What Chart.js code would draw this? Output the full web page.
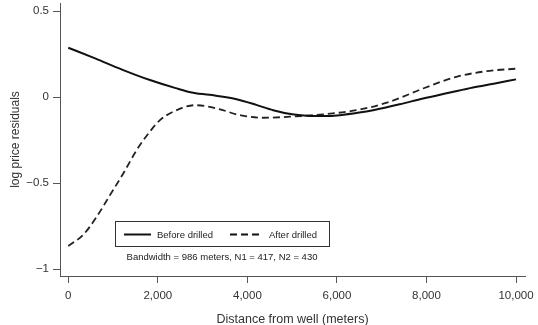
<!DOCTYPE html>
<html>
<head>
<meta charset="utf-8">
<script src="https://cdn.jsdelivr.net/npm/chart.js@4"></script>
<style>
  html, body { margin: 0; padding: 0; background: #fff; }
  #wrap { width: 538px; height: 325px; }
</style>
</head>
<body>
<div id="wrap"><canvas id="c" width="538" height="325"></canvas></div>
<script>
// distance from well (meters)
const beforeX = [0, 600, 1200, 1824, 2400, 2790, 3300, 3758, 4200, 4576, 5000, 5320, 5700, 6065, 6500, 6808, 7400, 7924, 8500, 9040, 9500, 10000];
const beforeY = [0.287, 0.225, 0.16, 0.099, 0.052, 0.025, 0.008, -0.012, -0.045, -0.076, -0.1, -0.108, -0.11, -0.105, -0.09, -0.076, -0.042, -0.008, 0.025, 0.056, 0.078, 0.103];

const afterX = [0, 335, 634, 931, 1228, 1527, 1824, 2047, 2344, 2828, 3313, 3833, 4353, 4949, 5692, 6437, 7181, 7924, 8670, 9413, 10000];
const afterY = [-0.866, -0.8, -0.696, -0.57, -0.444, -0.308, -0.2, -0.134, -0.085, -0.047, -0.066, -0.105, -0.12, -0.114, -0.1, -0.076, -0.027, 0.05, 0.118, 0.153, 0.165];

const xTicks = [0, 2000, 4000, 6000, 8000, 10000];
const yTicks = [-1, -0.5, 0, 0.5];

const seriesNames = ['Before drilled', 'After drilled'];
const noteText = 'Bandwidth = 986 meters, N1 = 417, N2 = 430';

const font = '"Liberation Sans", Arial, Helvetica, sans-serif';

function toPoints(xs, ys) {
  return xs.map((x, i) => ({ x: x, y: ys[i] }));
}

// legend box drawn inside the plot
const legendBox = {
  id: 'legendBox',
  afterDraw(chart) {
    const ctx = chart.ctx;
    ctx.save();
    ctx.strokeStyle = '#333';
    ctx.lineWidth = 1;
    ctx.strokeRect(115.5, 221.5, 214, 25);

    ctx.strokeStyle = '#111';
    ctx.lineWidth = 2;
    ctx.beginPath();
    ctx.moveTo(124, 234.5);
    ctx.lineTo(151, 234.5);
    ctx.stroke();

    ctx.setLineDash([7, 4]);
    ctx.beginPath();
    ctx.moveTo(230, 234.5);
    ctx.lineTo(261, 234.5);
    ctx.stroke();
    ctx.setLineDash([]);

    ctx.fillStyle = '#222';
    ctx.font = '9.5px ' + font;
    ctx.textBaseline = 'middle';
    ctx.textAlign = 'left';
    ctx.fillText(seriesNames[0], 157, 235);
    ctx.fillText(seriesNames[1], 269, 235);
    ctx.textAlign = 'center';
    ctx.fillText(noteText, 222, 257);
    ctx.restore();
  }
};

new Chart(document.getElementById('c').getContext('2d'), {
  type: 'scatter',
  data: {
    datasets: [
      {
        label: seriesNames[0],
        data: toPoints(beforeX, beforeY),
        showLine: true,
        borderColor: '#111',
        borderWidth: 2,
        pointRadius: 0,
        cubicInterpolationMode: 'monotone',
        fill: false
      },
      {
        label: seriesNames[1],
        data: toPoints(afterX, afterY),
        showLine: true,
        borderColor: '#222',
        borderWidth: 1.8,
        borderDash: [7, 4],
        pointRadius: 0,
        cubicInterpolationMode: 'monotone',
        fill: false
      }
    ]
  },
  options: {
    responsive: false,
    animation: false,
    layout: { padding: { top: 3, right: 13, left: 0, bottom: 0 } },
    plugins: {
      legend: { display: false },
      tooltip: { enabled: false }
    },
    scales: {
      x: {
        type: 'linear',
        min: -185,
        max: 10200,
        afterBuildTicks: function (scale) {
          scale.ticks = xTicks.map(v => ({ value: v }));
        },
        afterFit: function (scale) {
          scale.height = 49;
          scale.paddingLeft = 0;
          scale.paddingRight = 0;
        },
        grid: {
          drawOnChartArea: false,
          drawTicks: true,
          tickLength: 7,
          color: '#555'
        },
        border: { display: true, color: '#555', width: 1 },
        ticks: {
          padding: 6,
          color: '#333',
          font: { family: font, size: 11.5 },
          maxRotation: 0,
          callback: function (v) { return v.toLocaleString('en-US'); }
        },
        title: {
          display: true,
          text: 'Distance from well (meters)',
          color: '#333',
          font: { family: font, size: 12.5 },
          padding: { top: 5, bottom: -2 }
        }
      },
      y: {
        min: -1.04,
        max: 0.547,
        afterBuildTicks: function (scale) {
          scale.ticks = yTicks.map(v => ({ value: v }));
        },
        afterFit: function (scale) {
          scale.width = 60;
          scale.paddingTop = 0;
          scale.paddingBottom = 0;
        },
        grid: {
          drawOnChartArea: false,
          drawTicks: true,
          tickLength: 7,
          color: '#555'
        },
        border: { display: true, color: '#555', width: 1 },
        ticks: {
          padding: 4,
          color: '#333',
          font: { family: font, size: 11.5 },
          callback: function (v) { return v === 0 ? '0' : String(v).replace('-', '\u2212'); }
        },
        title: {
          display: true,
          text: 'log price residuals',
          color: '#333',
          font: { family: font, size: 12 },
          padding: { top: 8, bottom: 0 }
        }
      }
    }
  },
  plugins: [legendBox]
});
</script>
</body>
</html>
